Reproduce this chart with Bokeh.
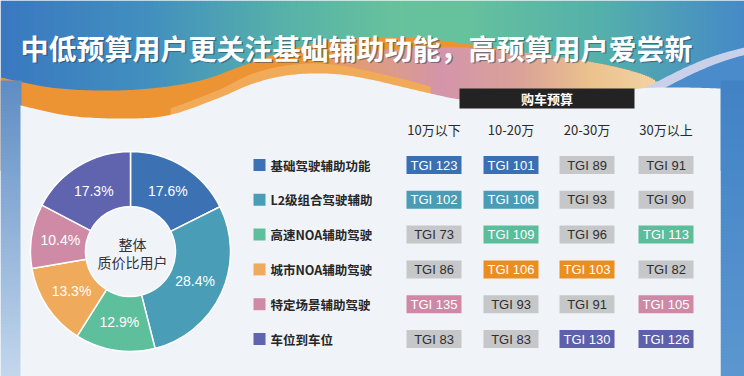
import numpy as np
from bokeh.plotting import figure
from bokeh.models import Range1d, ColumnDataSource
from bokeh.core.properties import value
from bokeh.embed import file_html
from bokeh.resources import INLINE

# ---------------- data ----------------
title = "中低预算用户更关注基础辅助功能，高预算用户爱尝新"
categories = ["基础驾驶辅助功能", "L2级组合驾驶辅助", "高速NOA辅助驾驶",
              "城市NOA辅助驾驶", "特定场景辅助驾驶", "车位到车位"]
shares = [17.6, 28.4, 12.9, 13.3, 10.4, 17.3]
center_label = ["整体", "质价比用户"]
budget_title = "购车预算"
budgets = ["10万以下", "10-20万", "20-30万", "30万以上"]
tgi_under10 = [123, 102, 73, 86, 135, 83]
tgi_10_20 = [101, 106, 109, 106, 93, 83]
tgi_20_30 = [89, 93, 96, 103, 91, 130]
tgi_over30 = [91, 90, 113, 82, 105, 126]
tgi_threshold = 100

# ---------------- styles / layout ----------------
slice_colors = ["#3c72b4", "#4a9db7", "#5dbf9c", "#efaa5c", "#cf8ba6", "#6063ad"]
cell_colors = ["#3a6fb1", "#4a9cb5", "#5bbd9a", "#eb8e22", "#cf89a6", "#5d60ab"]
gray_cell = "#c6c7c9"
CJK = "Noto Sans CJK SC"
W, H = 744, 376


def Y(y):
    return H - np.asarray(y, dtype=float)


def hex2rgb(h):
    h = h.lstrip("#")
    return [int(h[i:i + 2], 16) for i in (0, 2, 4)]


def grad(pos, hexes, t):
    cols = np.array([hex2rgb(c) for c in hexes], dtype=float)
    ch = [np.interp(t, pos, cols[:, k]) for k in range(3)]
    return ["#%02x%02x%02x" % (int(a), int(b), int(c)) for a, b, c in zip(*ch)]


def spline(px, py, n=16):
    pts = np.c_[np.asarray(px, float), np.asarray(py, float)]
    pts = np.vstack([pts[0], pts, pts[-1]])
    out = []
    for i in range(1, len(pts) - 2):
        p0, p1, p2, p3 = pts[i - 1], pts[i], pts[i + 1], pts[i + 2]
        for t in np.linspace(0, 1, n, endpoint=False):
            t2, t3 = t * t, t * t * t
            out.append(0.5 * ((2 * p1) + (-p0 + p2) * t + (2 * p0 - 5 * p1 + 4 * p2 - p3) * t2
                              + (-p0 + 3 * p1 - 3 * p2 + p3) * t3))
    out.append(pts[-2])
    out = np.array(out)
    return out[:, 0], out[:, 1]


p = figure(width=W, height=H, x_range=Range1d(0, W), y_range=Range1d(0, H),
           output_backend="svg", toolbar_location=None, min_border=0,
           x_axis_location=None, y_axis_location=None)
p.grid.visible = False
p.outline_line_color = None
p.background_fill_color = "#f0f4f8"
p.border_fill_color = None

# ---------------- background ----------------
bx = np.arange(0, W, 2.0)
bcols = grad([0, 150, 290, 400, 470, 600, 744],
             ["#3a79c1", "#4390bf", "#59b3a8", "#68c39c", "#66c19e", "#55b0ab", "#4689c8"], bx)
p.quad(left=bx, right=bx + 2.6, top=Y(0), bottom=Y(170), fill_color=bcols, line_color=None)

# orange wave
ox, oy = spline([0, 50, 100, 150, 200, 240, 280, 320, 370, 420, 470, 520, 560, 600, 650],
                [77, 87, 90, 88, 80, 66, 52, 42, 37, 38, 44, 52, 60, 70, 84])
p.patch(np.r_[ox, 650, 0], Y(np.r_[oy, 170, 170]), fill_color="#ec9434", line_color=None)

# salmon / pink / peach wave (horizontal gradient strips following the top curve)
wx, wy = spline([330, 380, 430, 480, 530, 580, 620, 650, 662],
                [58, 50, 47, 48, 53, 60, 68, 78, 92])
sx = np.arange(330, 662, 2.0)
st = np.interp(sx, wx, wy)
p.quad(left=sx, right=sx + 2.6, top=Y(st), bottom=Y(170),
       fill_color=grad([330, 390, 440, 520, 590, 662],
                       ["#e69a62", "#dc9c8a", "#d495aa", "#dba398", "#ecc28e", "#f3d4a6"], sx),
       line_color=None)

# lighter orange band along panel edge
lx, ly = spline([170, 217, 250, 280, 310, 340, 370, 400, 430],
                [108, 90, 74, 66, 63, 65, 71, 78, 86])
p.patch(np.r_[lx, 430, 170], Y(np.r_[ly, 170, 170]), fill_color="#f1aa57", line_color=None)

# lavender stripe + right blue wave
vx, vy = spline([628, 655, 685, 715, 744], [96, 82, 67, 55, 47])
p.patch(np.r_[vx, 744, 628], Y(np.r_[vy, 170, 170]), fill_color="#c9d1ea", line_color=None)
p.patch(np.r_[vx + 10, 744, 638], Y(np.r_[vy + 5, 170, 170]), fill_color="#4a8bcb", line_color=None)

# side strips (vertical gradients)
sy = np.arange(80, H, 3.0)
p.quad(left=0, right=21, top=Y(sy), bottom=Y(sy + 3.6),
       fill_color=grad([80, 376], ["#5f8dc4", "#c4d8ed"], sy), line_color=None)
p.quad(left=720, right=W, top=Y(sy), bottom=Y(sy + 3.6),
       fill_color=grad([80, 376], ["#4283c6", "#5c97d0"], sy), line_color=None)

# panel
nx, ny = spline([20, 67, 117, 167, 217, 250, 280, 310, 340, 370, 400, 430, 460, 500,
                 560, 610, 640, 680, 720],
                [105, 115, 118, 115, 98, 84, 76, 73, 74, 79, 86, 93, 99, 102,
                 100, 94, 88, 87, 88])
p.patch(np.r_[nx, 720, 20], Y(np.r_[ny, H, H]), fill_color="#f0f4f8", line_color=None)

# ---------------- title ----------------
p.text(x=[357.5], y=Y([48.5]), text=[title], text_font=value(CJK), text_font_style="bold",
       text_font_size="28px", text_color="#1d3b55", text_alpha=0.5,
       text_align="center", text_baseline="middle")
p.text(x=[356], y=Y([47]), text=[title], text_font=value(CJK), text_font_style="bold",
       text_font_size="28px", text_color="white",
       text_align="center", text_baseline="middle")

# ---------------- donut ----------------
CX, CY, R_IN, R_OUT, R_LAB = 130, 251, 45, 100, 71
total = sum(shares)
cum = np.cumsum([0] + shares) / total * 2 * np.pi
start = np.pi / 2 - cum[1:]
end = np.pi / 2 - cum[:-1]
mid = (start + end) / 2
src = ColumnDataSource(dict(start=start, end=end, color=slice_colors,
                            lx=CX + R_LAB * np.cos(mid), ly=Y(CY) + R_LAB * np.sin(mid),
                            lab=["%.1f%%" % s for s in shares]))
p.annular_wedge(x=CX, y=Y(CY), inner_radius=R_IN, outer_radius=R_OUT,
                start_angle="start", end_angle="end", fill_color="color",
                line_color="white", line_width=1.5, source=src)
p.text(x="lx", y="ly", text="lab", source=src, text_font=value("Liberation Sans"),
       text_font_size="14px", text_color="white", text_align="center", text_baseline="middle")
p.text(x=[CX + 2, CX + 2], y=Y([243, 261]), text=center_label, text_font=value(CJK),
       text_font_size="14px", text_color="#333333", text_align="center", text_baseline="middle")

# ---------------- legend ----------------
ROW0, DROW = 164.5, 34.8
rows = ROW0 + DROW * np.arange(len(categories))
p.rect(x=259, y=Y(rows), width=12, height=12, fill_color=slice_colors, line_color=None)
p.text(x=270, y=Y(rows), text=categories, text_font=value(CJK), text_font_style="bold",
       text_font_size="12.5px", text_color="#262626", text_align="left", text_baseline="middle")

# ---------------- TGI table ----------------
COLS = [433.5, 510.5, 586.5, 665.5]
p.rect(x=[546.5], y=Y([98]), width=175, height=20, fill_color="#232323", line_color=None)
p.text(x=[546.5], y=Y([98]), text=[budget_title], text_font=value(CJK), text_font_style="bold",
       text_font_size="13px", text_color="white", text_align="center", text_baseline="middle")
p.text(x=COLS, y=Y([129] * 4), text=budgets, text_font=value(CJK), text_font_size="13px",
       text_color="#2a2a2a", text_align="center", text_baseline="middle")

tx, ty, tt, tf, tc = [], [], [], [], []
for ci, col in enumerate([tgi_under10, tgi_10_20, tgi_20_30, tgi_over30]):
    for ri, v in enumerate(col):
        tx.append(COLS[ci]); ty.append(float(Y(rows[ri])))
        tt.append("TGI %d" % v)
        hi = v > tgi_threshold
        tf.append(cell_colors[ri] if hi else gray_cell)
        tc.append("white" if hi else "#2e2e2e")
tsrc = ColumnDataSource(dict(x=tx, y=ty, t=tt, f=tf, c=tc))
p.rect(x="x", y="y", width=55, height=18, fill_color="f", line_color=None, source=tsrc)
p.text(x="x", y="y", text="t", text_color="c", source=tsrc, text_font=value("Liberation Sans"),
       text_font_size="13px", text_align="center", text_baseline="middle")

open("out.html", "w").write(file_html(p, INLINE))
